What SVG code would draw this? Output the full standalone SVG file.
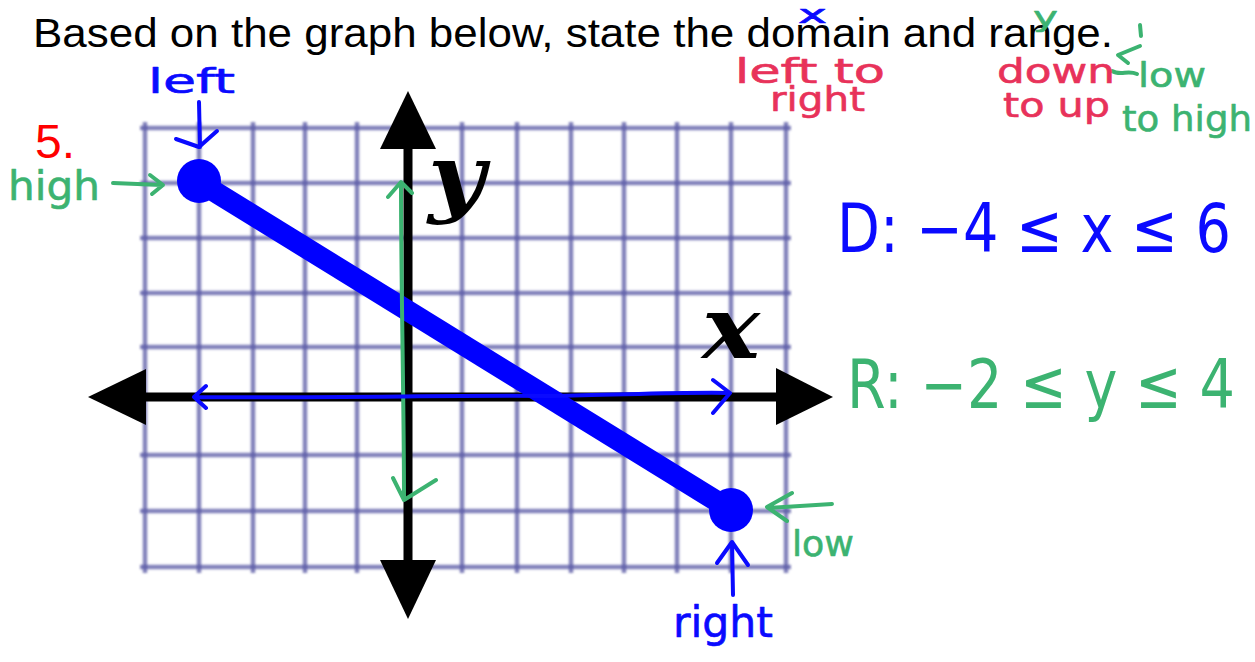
<svg xmlns="http://www.w3.org/2000/svg" width="1255" height="662" viewBox="0 0 1255 662">
<style>
.grid line{stroke:#5a5aa6;stroke-width:4.5;stroke-opacity:0.75}
.axis{stroke:#000;stroke-width:9}
.head{fill:#000}
.title{font-family:"Liberation Sans",Arial,sans-serif;font-size:40px;fill:#000}
.hand{font-family:"DejaVu Sans","Noto Sans",sans-serif;stroke-width:0.6;stroke-linejoin:round}
.big{stroke-width:0}
.hb{fill:#0a0aff;stroke:#0a0aff}
.hg{fill:#3cb371;stroke:#3cb371}
.hr{fill:#e8325a;stroke:#e8325a}
.pb{fill:none;stroke:#0a0aff;stroke-width:4;stroke-linecap:round;stroke-linejoin:round}
.pg{fill:none;stroke:#3cb371;stroke-width:4;stroke-linecap:round;stroke-linejoin:round}
.lab{font-family:"DejaVu Serif","Liberation Serif",serif;font-weight:bold;font-style:italic;font-size:86px;fill:#000}
</style>
<defs>
<filter id="soft" x="-5%" y="-5%" width="110%" height="110%"><feGaussianBlur stdDeviation="1.2"/></filter>
</defs>
<rect width="1255" height="662" fill="#fff"/>
<g id="title"><text class="title" x="33" y="47" textLength="1080" lengthAdjust="spacingAndGlyphs">Based on the graph below, state the domain and range.</text></g>
<g id="number"><text x="35" y="158" font-family="Liberation Sans,Arial,sans-serif" font-size="48" fill="#ff0000">5.</text></g>
<g id="grid" class="grid" filter="url(#soft)">
<line x1="145" y1="122" x2="145" y2="573"/><line x1="199" y1="122" x2="199" y2="573"/><line x1="253" y1="122" x2="253" y2="573"/><line x1="305" y1="122" x2="305" y2="573"/><line x1="357" y1="122" x2="357" y2="573"/><line x1="462" y1="122" x2="462" y2="573"/><line x1="517" y1="122" x2="517" y2="573"/><line x1="571" y1="122" x2="571" y2="573"/><line x1="624" y1="122" x2="624" y2="573"/><line x1="677" y1="122" x2="677" y2="573"/><line x1="731" y1="122" x2="731" y2="573"/><line x1="786" y1="122" x2="786" y2="573"/>
<line x1="140" y1="128" x2="791" y2="128"/><line x1="140" y1="183" x2="791" y2="183"/><line x1="140" y1="238" x2="791" y2="238"/><line x1="140" y1="293" x2="791" y2="293"/><line x1="140" y1="347" x2="791" y2="347"/><line x1="140" y1="455" x2="791" y2="455"/><line x1="140" y1="511" x2="791" y2="511"/><line x1="140" y1="567" x2="791" y2="567"/>
</g>
<g id="axes">
<line class="axis" x1="140" y1="397" x2="780" y2="397"/>
<line class="axis" x1="408" y1="145" x2="408" y2="562"/>
<polygon class="head" points="88,397 146,369 146,425"/>
<polygon class="head" points="833,397 776,368 776,425"/>
<polygon class="head" points="408,91 380,149 436,149"/>
<polygon class="head" points="408,619 380,560 436,560"/>
<text class="lab" x="428" y="206" textLength="57" lengthAdjust="spacingAndGlyphs">y</text>
<text class="lab" x="702" y="358" textLength="58" lengthAdjust="spacingAndGlyphs">x</text>
</g>
<g id="segment">
<line x1="199" y1="182" x2="731" y2="510" stroke="#0000ff" stroke-width="21"/>
<circle cx="199" cy="181" r="22" fill="#0000ff"/>
<circle cx="731" cy="510" r="22" fill="#0000ff"/>
</g>
<g id="connectors">
<path class="pb" d="M199,102 L200,147 M176,139 L199,147 L217,131"/>
<path class="pg" d="M113,183 L162,185 M150,175 L163,185 L152,194"/>
<path class="pg" d="M401,183 C401,290 404,400 404,500 M388,197 L401,182 L412,193 M393,478 L404,500 L436,480"/>
<path class="pb" d="M194,397 C350,398 450,395 550,396 C620,395 680,392 729,393 M206,386 L194,397 L206,408 M713,380 L730,393 L713,413"/>
<path class="pg" d="M832,504 L768,508 M792,493 L767,507 L787,521"/>
<path class="pb" d="M733,595 L732,543 M717,563 L732,542 L748,565"/>
<path class="pg" d="M1140,25 L1141,36 M1140,46 L1118,55 L1128,63 M1112,71 C1120,76 1128,70 1137,74"/>
</g>
<g id="annotations">
<text class="hand hb" x="798" y="23" font-size="24" textLength="29" lengthAdjust="spacingAndGlyphs">x</text>
<text class="hand hg" x="1033" y="26" font-size="26" textLength="25" lengthAdjust="spacingAndGlyphs">y</text>
<text class="hand hb" x="148" y="93" font-size="34" textLength="87" lengthAdjust="spacingAndGlyphs">left</text>
<text class="hand hg" x="8" y="200" font-size="40" textLength="92" lengthAdjust="spacingAndGlyphs">high</text>
<text class="hand hr" x="735" y="83" font-size="33" textLength="150" lengthAdjust="spacingAndGlyphs">left to</text>
<text class="hand hr" x="770" y="111" font-size="33" textLength="95" lengthAdjust="spacingAndGlyphs">right</text>
<text class="hand hr" x="997" y="83" font-size="33" textLength="118" lengthAdjust="spacingAndGlyphs">down</text>
<text class="hand hr" x="1003" y="117" font-size="33" textLength="107" lengthAdjust="spacingAndGlyphs">to up</text>
<text class="hand hg" x="1138" y="87" font-size="33" textLength="68" lengthAdjust="spacingAndGlyphs">low</text>
<text class="hand hg" x="1122" y="131" font-size="36" textLength="130" lengthAdjust="spacingAndGlyphs">to high</text>
<text class="hand big hb" x="837" y="252" font-size="68" textLength="394" lengthAdjust="spacingAndGlyphs">D: −4 ≤ x ≤ 6</text>
<text class="hand big hg" x="847" y="408" font-size="68" textLength="388" lengthAdjust="spacingAndGlyphs">R: −2 ≤ y ≤ 4</text>
<text class="hand hg" x="792" y="556" font-size="36" textLength="62" lengthAdjust="spacingAndGlyphs">low</text>
<text class="hand hb" x="673" y="637" font-size="42" textLength="100" lengthAdjust="spacingAndGlyphs">right</text>
</g>
</svg>
